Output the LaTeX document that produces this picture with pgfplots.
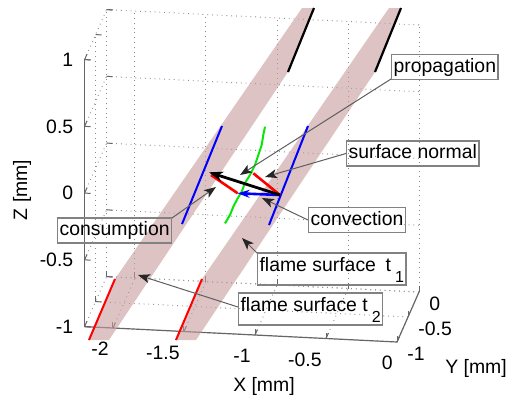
\documentclass[border=0pt]{standalone}
\usepackage{pgfplots}
\pgfplotsset{compat=1.18}
\usepackage{fontspec}
\setmainfont{Liberation Sans}
\usetikzlibrary{arrows.meta}

\definecolor{band}{RGB}{198,155,156}
\definecolor{mgreen}{RGB}{10,230,10}
\definecolor{annot}{RGB}{95,95,95}
\definecolor{boxgray}{RGB}{130,130,130}

\begin{document}
\begin{tikzpicture}[font=\fontsize{9.7}{11.6}\selectfont]
\begin{axis}[
  x={(71pt,-3.5pt)}, y={(11pt,25pt)}, z={(0pt,66.75pt)},
  xmin=-2.2, xmax=0, ymin=-1, ymax=0, zmin=-1, zmax=1,
  clip=false, no markers,
  xtick={-2,-1.5,-1,-0.5,0}, xticklabels={-2,-1.5,-1,-0.5,0},
  ytick={-1,-0.5,0}, yticklabels={-1,-0.5,0},
  ztick={-1,-0.5,0,0.5,1}, zticklabels={-1,-0.5,0,0.5,1},
  tick pos=left,
  grid=major,
  major grid style={black!45, dotted, line width=0.5pt},
  axis line style={draw=none},
  tick style={black!60, line width=0.5pt},
  major tick length=3pt,
  tick label style={inner sep=0pt},
  xticklabel style={anchor=east, xshift=-2pt, yshift=-10.5pt},
  yticklabel style={anchor=west, xshift=5pt, yshift=-6pt},
  zticklabel style={anchor=east, xshift=-5.5pt},
  xlabel={X [mm]}, ylabel={Y [mm]}, zlabel={Z [mm]},
  every axis x label/.style={at={(axis cs:-1.0141,-0.5,-1.570)}, anchor=center},
  every axis y label/.style={at={(axis cs:0.4789,-0.5,-1.357)}, anchor=center},
  every axis z label/.style={at={(axis cs:-2.7183,-0.5,-0.191)}, anchor=center, rotate=90},
]
% axis lines
\draw[black!60, line width=0.6pt] (axis cs:-2.2,-1,-1) -- (axis cs:0,-1,-1) -- (axis cs:0,0,-1);
\draw[black!60, line width=0.6pt] (axis cs:-2.2,-1,-1) -- (axis cs:-2.2,-1,1);

% flame surfaces (bands)
\addplot3[draw=none, fill=band, fill opacity=0.6] coordinates {
  (-2.2535,-0.5,-1.2904) (-2.0634,-0.5,-0.8235) (-0.7465,-0.5,1.2754)
  (-0.6620,-0.5,1.2799) (-0.8451,-0.5,0.7909) (-2.1056,-0.5,-1.2827)} -- cycle;
\addplot3[draw=none, fill=band, fill opacity=0.6] coordinates {
  (-1.6408,-0.5,-1.2583) (-1.4507,-0.5,-0.7914) (-0.1338,-0.5,1.3076)
  (-0.0493,-0.5,1.3120) (-0.2324,-0.5,0.8230) (-1.4930,-0.5,-1.2506)} -- cycle;

% surface edges
\addplot3[red, line width=1pt] coordinates {(-2.2465,-0.5,-1.2901) (-2.0634,-0.5,-0.8235)};
\addplot3[red, line width=1pt] coordinates {(-1.6338,-0.5,-1.2580) (-1.4507,-0.5,-0.7914)};
\addplot3[black, line width=1.1pt] coordinates {(-0.8451,-0.5,0.7909) (-0.6620,-0.5,1.2799)};
\addplot3[black, line width=1.1pt] coordinates {(-0.2324,-0.5,0.8230) (-0.0493,-0.5,1.3120)};

% local flame fronts
\addplot3[blue, line width=1pt] coordinates {(-1.3099,-0.5,0.3620) (-1.5915,-0.5,-0.3868)};
\addplot3[blue, line width=1pt] coordinates {(-0.7042,-0.5,0.3938) (-0.9789,-0.5,-0.3622)};
\addplot3[mgreen, line width=1pt] coordinates {
  (-1.0070,-0.5,0.3727) (-1.0190,-0.5,0.3099) (-1.0303,-0.5,0.2344) (-1.0542,-0.5,0.1582)
  (-1.0775,-0.5,0.0821) (-1.1127,-0.5,0.0053) (-1.1479,-0.5,-0.0565) (-1.1711,-0.5,-0.1228)
  (-1.1993,-0.5,-0.1738) (-1.2303,-0.5,-0.2383) (-1.2535,-0.5,-0.3017) (-1.2887,-0.5,-0.3657)};

% vectors
\addplot3[red, line width=1.3pt] coordinates {(-1.3873,-0.5,-0.0091) (-1.1993,-0.5,-0.1363)};
\addplot3[red, line width=1.3pt] coordinates {(-0.9014,-0.5,-0.1334) (-1.0894,-0.5,0.0193)};
\addplot3[blue, line width=1.3pt, -{Stealth[length=6pt,width=4pt]}] coordinates {(-0.9014,-0.5,-0.1334) (-1.1993,-0.5,-0.1363)};
\addplot3[black, line width=1.4pt, -{Stealth[length=7pt,width=5pt]}] coordinates {(-0.9014,-0.5,-0.1334) (-1.4014,-0.5,0.0104)};

% annotations
\tikzset{ann/.style={annot, line width=0.5pt, -{Stealth[length=6pt,width=4.5pt,inset=1.5pt,color=black!85]}},
  lbl/.style={draw=boxgray, line width=0.6pt, inner xsep=1pt, inner ysep=0pt, minimum height=12.5pt, text height=7.5pt, text depth=2.2pt, anchor=west},
  lbl2/.style={lbl, text height=8pt, text depth=5.5pt, inner ysep=1.25pt}}
\draw[ann] (axis cs:-0.1197,-0.5,0.7765) -- (axis cs:-1.1831,-0.5,0.0016);
\draw[ann] (axis cs:-0.4366,-0.5,0.2018) -- (axis cs:-1.0070,-0.5,-0.0041);
\draw[ann] (axis cs:-0.7042,-0.5,-0.3103) -- (axis cs:-1.0282,-0.5,-0.1625);
\draw[ann] (axis cs:-1.6620,-0.5,-0.3455) -- (axis cs:-1.3521,-0.5,-0.0971);
\draw[ann] (axis cs:-1.0563,-0.5,-0.5835) -- (axis cs:-1.1690,-0.5,-0.4695);
\draw[ann] (axis cs:-1.1972,-0.5,-0.9879) -- (axis cs:-1.9014,-0.5,-0.7851);
\node[lbl] at (axis cs:-0.1197,-0.5,0.8664) {propagation};
\node[lbl] at (axis cs:-0.4366,-0.5,0.2018) {surface normal\hspace{4pt}};
\node[lbl] at (axis cs:-0.7042,-0.5,-0.3103) {convection};
\node[lbl] at (axis cs:-2.4718,-0.5,-0.4816) {consumption};
\node[lbl2] at (axis cs:-1.0634,-0.5,-0.6962) {flame surface\hspace{0.5em}t\hspace{2pt}\raisebox{-5.5pt}{\fontsize{8}{9}\selectfont 1}};
\node[lbl2] at (axis cs:-1.1972,-0.5,-1.0028) {flame surface t\hspace{2pt}\raisebox{-5.5pt}{\fontsize{8}{9}\selectfont 2}};

\coordinate (tl) at (axis cs:-2.8732,-0.5,1.2239);
\coordinate (br) at (axis cs:0.7324,-0.5,-1.6058);
\end{axis}
\pgfresetboundingbox
\useasboundingbox (tl) rectangle (br);
\end{tikzpicture}
\end{document}
